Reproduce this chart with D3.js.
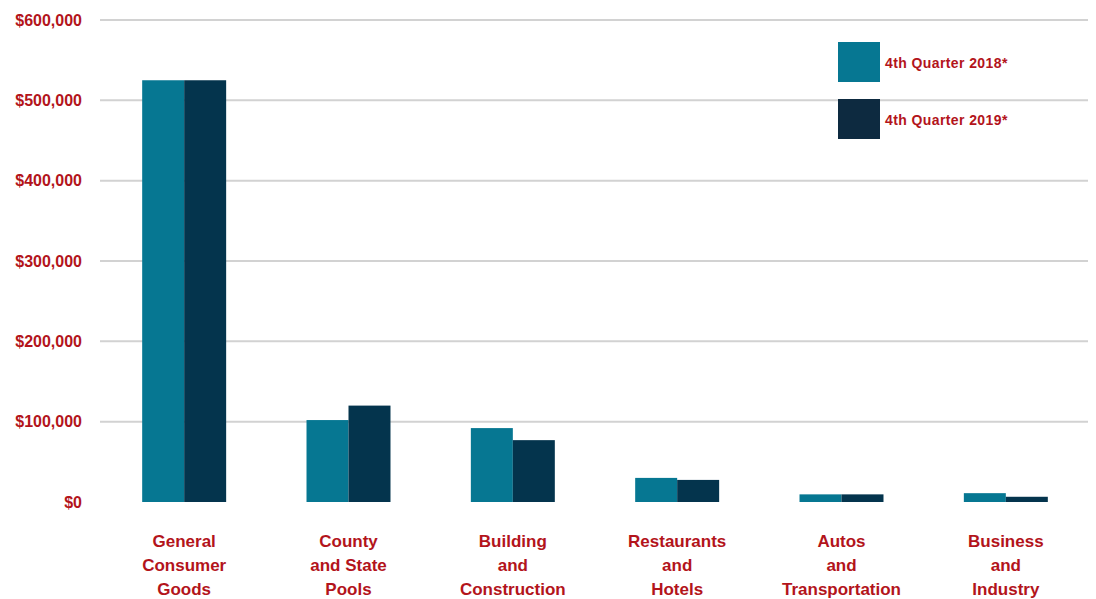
<!DOCTYPE html>
<html>
<head>
<meta charset="utf-8">
<script src="https://cdn.jsdelivr.net/npm/d3@7"></script>
<style>
  html, body { margin: 0; padding: 0; background: #fff; }
  svg { display: block; }
  text { font-family: "Liberation Sans", Arial, sans-serif; font-weight: bold; fill: #b3141b; }
</style>
</head>
<body>
<svg id="chart" width="1096" height="599"></svg>
<script>
const categories = [
  ["General", "Consumer", "Goods"],
  ["County", "and State", "Pools"],
  ["Building", "and", "Construction"],
  ["Restaurants", "and", "Hotels"],
  ["Autos", "and", "Transportation"],
  ["Business", "and", "Industry"]
];
const seriesNames = ["4th Quarter 2018*", "4th Quarter 2019*"];
const values2018 = [525000, 102000, 92000, 30000, 9500, 11000];
const values2019 = [525000, 120000, 77000, 27500, 9500, 6500];
const yTicks = [0, 100000, 200000, 300000, 400000, 500000, 600000];
const colors = ["#067792", "#04344d"];

const svg = d3.select("#chart");
const x = d3.scaleBand().domain(d3.range(categories.length)).range([102, 1088]).paddingInner(0.489).paddingOuter(0.2445);
const xs = d3.scaleBand().domain([0, 1]).range([0, x.bandwidth()]);
const y = d3.scaleLinear().domain([0, 600000]).range([502, 20]);

// gridlines
svg.append("g").selectAll("line").data(yTicks.filter(d => d > 0)).join("line")
  .attr("x1", 100).attr("x2", 1088)
  .attr("y1", d => y(d)).attr("y2", d => y(d))
  .attr("stroke", "#d2d2d2").attr("stroke-width", 2);

// y axis labels
const yAxis = d3.axisLeft(y).tickValues(yTicks)
  .tickFormat(d => "$" + d3.format(",")(d)).tickSize(0).tickPadding(0);
const yg = svg.append("g").attr("transform", "translate(82,0)").call(yAxis);
yg.select(".domain").remove();
yg.selectAll("text").attr("font-size", 16).attr("fill", "#b3141b")
  .style("font-family", '"Liberation Sans", Arial, sans-serif').style("font-weight", "bold");

// bars
const series = [values2018, values2019];
series.forEach((vals, si) => {
  svg.append("g").selectAll("rect").data(vals).join("rect")
    .attr("x", (d, i) => x(i) + xs(si))
    .attr("width", xs.bandwidth())
    .attr("y", d => y(d))
    .attr("height", d => y(0) - y(d))
    .attr("fill", colors[si]);
});

// x labels
const xl = svg.append("g");
categories.forEach((lines, i) => {
  const t = xl.append("text").attr("text-anchor", "middle").attr("font-size", 17)
    .attr("x", x(i) + x.bandwidth() / 2).attr("y", 547);
  lines.forEach((ln, j) => {
    t.append("tspan").attr("x", x(i) + x.bandwidth() / 2).attr("dy", j === 0 ? 0 : 24).text(ln);
  });
});

// legend
const legend = svg.append("g");
seriesNames.forEach((name, i) => {
  const yy = 42 + i * 57;
  legend.append("rect").attr("x", 838).attr("y", yy).attr("width", 42).attr("height", 40).attr("fill", i === 0 ? colors[0] : "#0d2a40");
  legend.append("text").attr("x", 885).attr("y", yy + 26).attr("font-size", 14)
    .attr("letter-spacing", 0.4).text(name);
});
</script>
</body>
</html>
